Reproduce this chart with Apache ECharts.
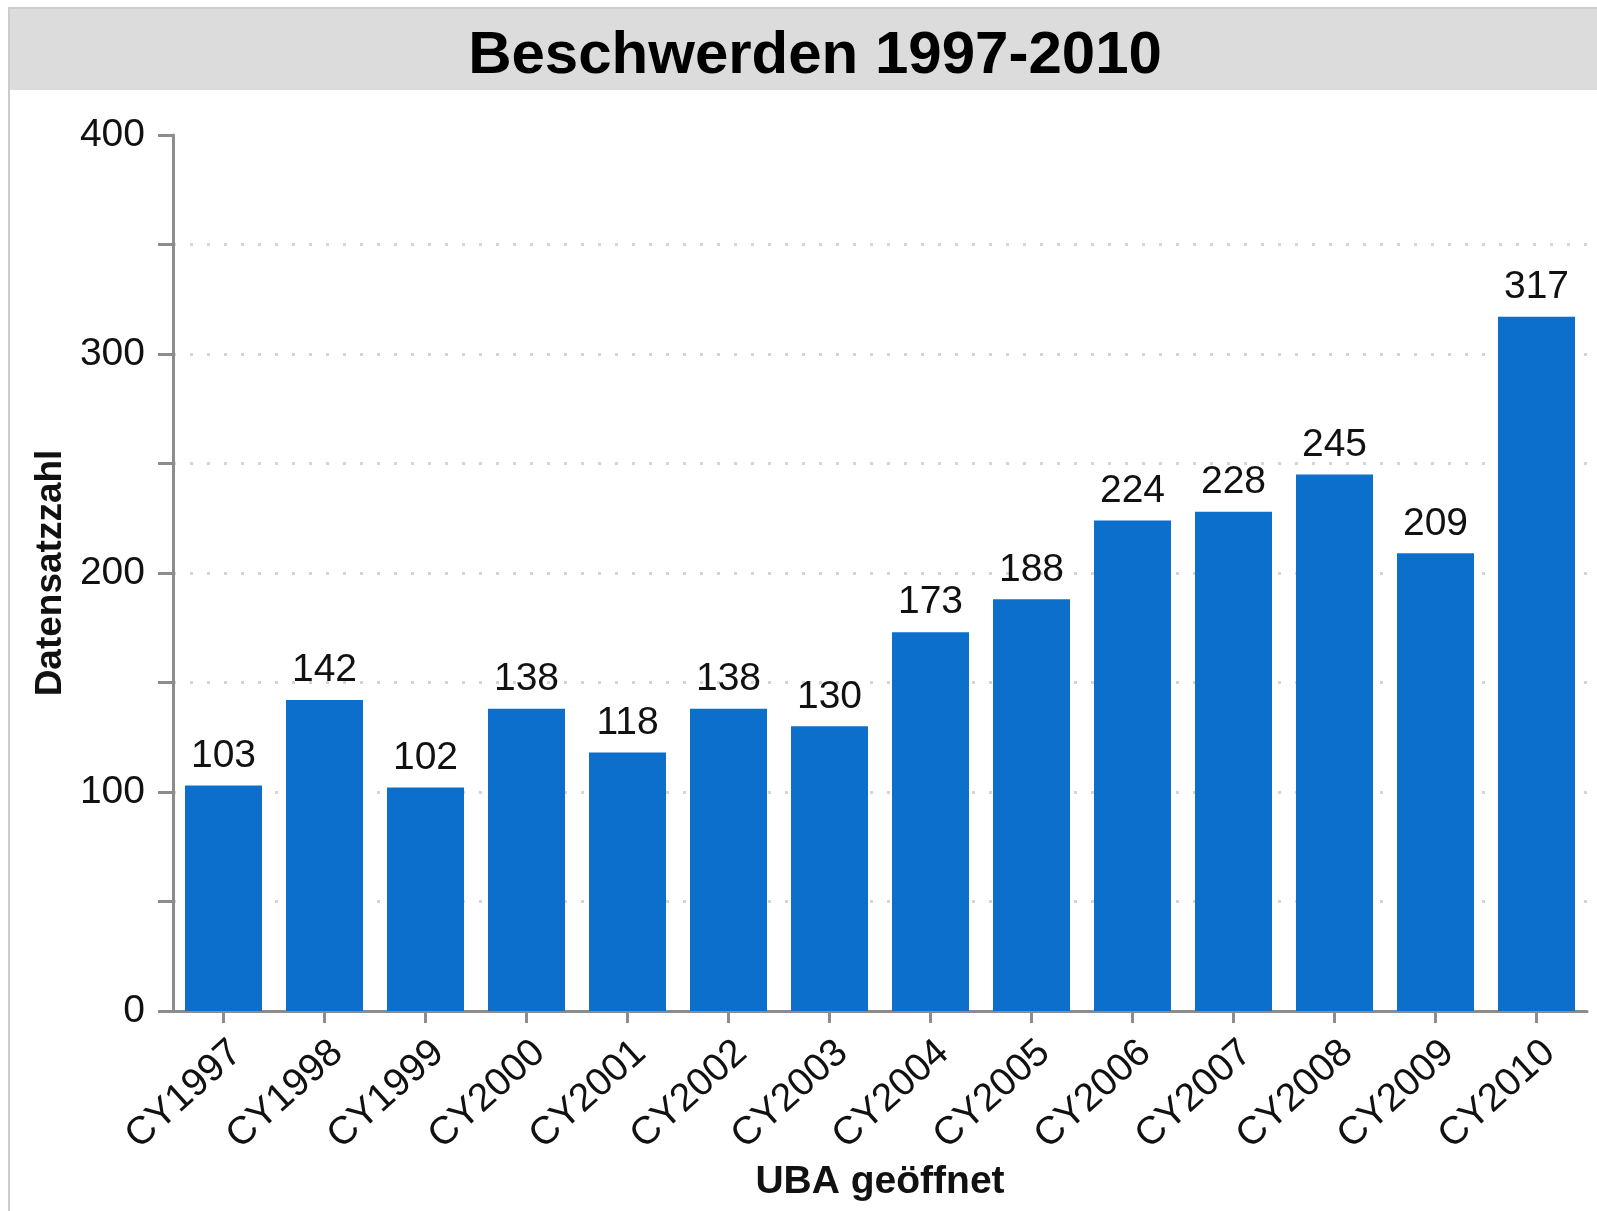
<!DOCTYPE html>
<html>
<head>
<meta charset="utf-8">
<title>Beschwerden 1997-2010</title>
<script src="https://cdn.jsdelivr.net/npm/echarts@6/dist/echarts.min.js"></script>
<style>
html, body {
  margin: 0;
  padding: 0;
  background: #fff;
}
#chart {
  width: 1597px;
  height: 1211px;
}
</style>
</head>
<body>
<div id="chart"></div>
<script>
// data
var categories = ['CY1997', 'CY1998', 'CY1999', 'CY2000', 'CY2001', 'CY2002', 'CY2003',
  'CY2004', 'CY2005', 'CY2006', 'CY2007', 'CY2008', 'CY2009', 'CY2010'];
var counts = [103, 142, 102, 138, 118, 138, 130, 173, 188, 224, 228, 245, 209, 317];

var titleText = 'Beschwerden 1997-2010';
var xTitle = 'UBA geöffnet';
var yTitle = 'Datensatzzahl';

var fontName = 'Arial, "Liberation Sans", sans-serif';
var axisGrey = '#8c8c8c';

var option = {
  animation: false,
  backgroundColor: '#fff',
  // frame + grey title bar
  graphic: [
    {
      type: 'rect',
      silent: true,
      shape: { x: 9, y: 8, width: 1600, height: 1210 },
      style: { fill: '#fff', stroke: '#cccccc', lineWidth: 2 }
    },
    {
      type: 'rect',
      silent: true,
      shape: { x: 10, y: 9, width: 1600, height: 81 },
      style: { fill: '#dcdcdc' }
    }
  ],
  title: {
    text: titleText,
    left: 810,
    top: 21,
    textAlign: 'center',
    textStyle: {
      fontFamily: fontName,
      fontWeight: 'bold',
      fontSize: 60,
      color: '#000'
    }
  },
  grid: {
    left: 173,
    right: 10,
    top: 135,
    bottom: 200
  },
  xAxis: {
    type: 'category',
    data: categories,
    name: xTitle,
    nameLocation: 'middle',
    nameGap: 150,
    nameTextStyle: {
      fontFamily: fontName,
      fontWeight: 'bold',
      fontSize: 39,
      color: '#111'
    },
    axisLine: {
      show: true,
      lineStyle: { color: axisGrey, width: 3 }
    },
    axisTick: {
      show: true,
      alignWithLabel: true,
      length: 12,
      lineStyle: { color: axisGrey, width: 3 }
    },
    axisLabel: {
      rotate: 42,
      interval: 0,
      margin: 22,
      verticalAlign: 'top',
      fontFamily: fontName,
      fontSize: 39,
      color: '#111'
    },
    splitLine: { show: false }
  },
  yAxis: {
    type: 'value',
    min: 0,
    max: 400,
    interval: 50,
    name: yTitle,
    nameLocation: 'middle',
    nameGap: 100,
    nameTextStyle: {
      fontFamily: fontName,
      fontWeight: 'bold',
      fontSize: 37,
      color: '#111'
    },
    axisLine: {
      show: true,
      lineStyle: { color: axisGrey, width: 3 }
    },
    axisTick: {
      show: true,
      length: 15,
      lineStyle: { color: axisGrey, width: 3 }
    },
    axisLabel: {
      margin: 28,
      fontFamily: fontName,
      fontSize: 39,
      color: '#111',
      formatter: function (v) {
        return v % 100 === 0 ? String(v) : '';
      }
    },
    splitLine: {
      show: true,
      showMinLine: false,
      showMaxLine: false,
      lineStyle: {
        color: '#d4d4d4',
        width: 3,
        type: [3, 14]
      }
    }
  },
  series: [
    {
      name: yTitle,
      type: 'bar',
      data: counts,
      barWidth: 77,
      itemStyle: { color: '#0d6fcc' },
      label: {
        show: true,
        position: 'top',
        distance: 10,
        fontFamily: fontName,
        fontSize: 39,
        color: '#111'
      }
    }
  ]
};

var myChart = echarts.init(document.getElementById('chart'));
myChart.setOption(option);
</script>
</body>
</html>
